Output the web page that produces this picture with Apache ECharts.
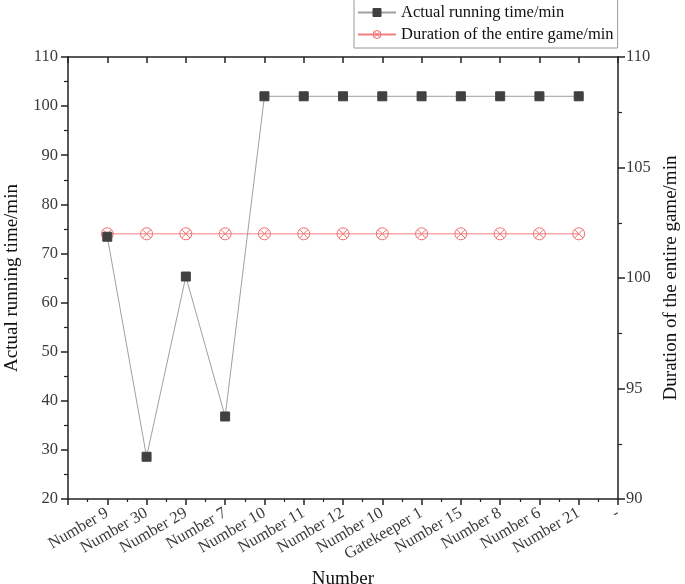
<!DOCTYPE html>
<html>
<head>
<meta charset="utf-8">
<script src="https://cdn.jsdelivr.net/npm/echarts@6/dist/echarts.min.js"></script>
<style>html,body{margin:0;padding:0;background:#fff}#c{width:685px;height:584px}</style>
</head>
<body>
<div id="c"></div>
<script>
var categories = ["Number 9","Number 30","Number 29","Number 7","Number 10","Number 11","Number 12","Number 10","Gatekeeper 1","Number 15","Number 8","Number 6","Number 21"];
var tickLabels = [""].concat(categories, ["-"]);
var actualRunning = [73.4, 28.6, 65.3, 36.8, 102, 102, 102, 102, 102, 102, 102, 102, 102];
var entireGame = [102, 102, 102, 102, 102, 102, 102, 102, 102, 102, 102, 102, 102];

var FONT = "'Liberation Serif', 'Times New Roman', serif";
var chart = echarts.init(document.getElementById('c'));
var crossCircle = 'path://M0,-10 A10,10 0 1,1 0,10 A10,10 0 1,1 0,-10 Z M-7.07,-7.07 L7.07,7.07 M7.07,-7.07 L-7.07,7.07';
var axisLineStyle = {color: '#222', width: 1.5};
var labelStyle = {fontFamily: FONT, fontSize: 16.5, color: '#3a3a3a'};

chart.setOption({
  animation: false,
  backgroundColor: '#fff',
  grid: {left: 68, right: 67, top: 57, bottom: 85, containLabel: false, outerBoundsMode: 'none'},
  legend: {
    orient: 'vertical', left: 354, top: -1, width: 262,
    padding: [5, 4, 5, 3], itemGap: 5,
    borderColor: '#9a9a9a', borderWidth: 1, backgroundColor: '#fff',
    itemWidth: 38, itemHeight: 10, itemStyle: {borderWidth: 1},
    textStyle: {fontFamily: FONT, fontSize: 16.5, color: '#111'},
    data: ['Actual running time/min', 'Duration of the entire game/min']
  },
  xAxis: [{
    type: 'value', position: 'bottom', min: 0, max: 14, interval: 1,
    name: 'Number', nameLocation: 'middle', nameGap: 68,
    nameTextStyle: {fontFamily: FONT, fontSize: 19, color: '#111'},
    axisLine: {show: true, onZero: false, lineStyle: axisLineStyle},
    axisTick: {show: true, length: 6, lineStyle: {color: '#222', width: 1.5}},
    minorTick: {show: true, splitNumber: 2, length: 3, lineStyle: {color: '#222', width: 1.2}},
    splitLine: {show: false},
    axisLabel: Object.assign({rotate: 30, margin: 13, showMinLabel: false,
      formatter: function (v) { return tickLabels[v] || ''; }}, labelStyle)
  }, {
    type: 'value', position: 'top', min: 0, max: 14, interval: 1,
    axisLine: {show: true, onZero: false, lineStyle: axisLineStyle},
    axisTick: {show: true, inside: true, length: 6, lineStyle: {color: '#222', width: 1.5}},
    minorTick: {show: false},
    splitLine: {show: false},
    axisLabel: {show: false}
  }],
  yAxis: [{
    type: 'value', position: 'left', min: 20, max: 110, interval: 10,
    name: 'Actual running time/min', nameLocation: 'middle', nameGap: 46, nameRotate: 90,
    nameTextStyle: {fontFamily: FONT, fontSize: 19, color: '#111'},
    axisLine: {show: true, onZero: false, lineStyle: axisLineStyle},
    axisTick: {show: true, length: 7, lineStyle: {color: '#222', width: 1.5}},
    minorTick: {show: true, splitNumber: 2, length: 4, lineStyle: {color: '#222', width: 1.2}},
    splitLine: {show: false},
    axisLabel: Object.assign({margin: 10}, labelStyle)
  }, {
    type: 'value', position: 'right', min: 90, max: 110, interval: 5,
    name: 'Duration of the entire game/min', nameLocation: 'middle', nameGap: 42, nameRotate: 90,
    nameTextStyle: {fontFamily: FONT, fontSize: 19, color: '#111'},
    axisLine: {show: true, onZero: false, lineStyle: axisLineStyle},
    axisTick: {show: true, length: 7, lineStyle: {color: '#222', width: 1.5}},
    minorTick: {show: true, splitNumber: 2, length: 4, lineStyle: {color: '#222', width: 1.2}},
    splitLine: {show: false},
    axisLabel: Object.assign({margin: 8}, labelStyle)
  }],
  series: [{
    name: 'Duration of the entire game/min', type: 'line', yAxisIndex: 1, xAxisIndex: 0,
    data: entireGame.map(function (v, i) { return [i + 1, v]; }),
    symbol: crossCircle, symbolSize: 12,
    lineStyle: {color: '#f08080', width: 1},
    itemStyle: {color: 'rgba(0,0,0,0)', borderColor: '#f07070', borderWidth: 1},
    z: 2
  }, {
    name: 'Actual running time/min', type: 'line', yAxisIndex: 0, xAxisIndex: 0,
    data: actualRunning.map(function (v, i) { return [i + 1, v]; }),
    symbol: 'rect', symbolSize: 9,
    lineStyle: {color: '#a0a0a0', width: 1},
    itemStyle: {color: '#404040', borderColor: '#404040'},
    z: 3
  }]
});
</script>
</body>
</html>
